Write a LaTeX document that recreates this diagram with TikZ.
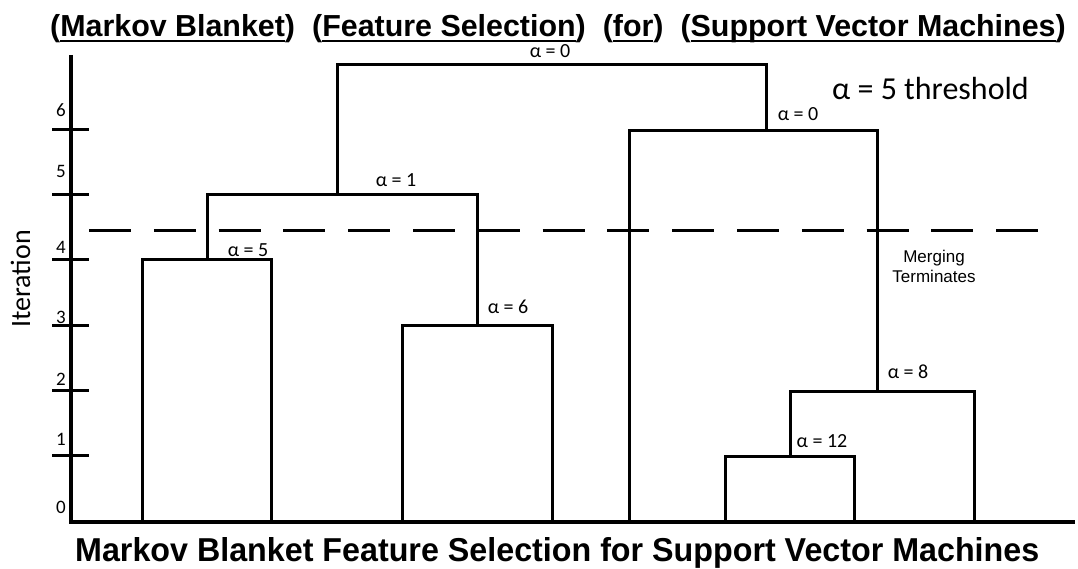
\documentclass[tikz,border=0pt]{standalone}
\usepackage{fontspec}
\setmainfont{Liberation Sans}
\newfontfamily\calfont{Carlito}
\newcommand\myul[1]{\setbox0\hbox{#1}\rlap{\rule[-5pt]{\wd0}{2.4pt}}\box0}
\begin{document}
\begin{tikzpicture}[x=1pt,y=-1pt,
  den/.style={line width=3pt, line join=miter, line cap=rect},
  axisline/.style={line width=3.2pt},
  tick/.style={line width=3pt},
  thresh/.style={line width=3pt, dash pattern=on 42pt off 22.8pt},
  alab/.style={font=\calfont\fontsize{20}{24}\selectfont, anchor=base, inner sep=0pt},
  nlab/.style={font=\calfont\fontsize{19}{23}\selectfont, anchor=base, inner sep=0pt}]
\useasboundingbox[fill=white] (0,0) rectangle (1078,569);

% axes
\coordinate (origin) at (71,522);
\coordinate (ytop) at (71,55);
\coordinate (xend) at (1075,522);
\draw[axisline] (ytop) -- (origin) -- (xend);

% ticks and numbers
\foreach \i/\y/\b in {1/455/445, 2/390/385, 3/325/323, 4/260/254, 5/195/178, 6/130/117}{
  \coordinate (tl\i) at (52,\y);
  \coordinate (tr\i) at (89,\y);
  \draw[tick] (tl\i) -- (tr\i);
  \node[nlab] (n\i) at (61,\b) {\i};
}
\node[nlab] (n0) at (61,513) {0};

\node[font=\calfont\fontsize{28}{32}\selectfont, rotate=90, anchor=base, inner sep=0pt] (ylab) at (30,279) {Iteration};

% leaves
\coordinate (A1) at (142,522);
\coordinate (A2) at (271,522);
\coordinate (B1) at (402,522);
\coordinate (B2) at (552,522);
\coordinate (E1) at (629,522);
\coordinate (C1) at (725,522);
\coordinate (C2) at (854,522);
\coordinate (D2) at (974,522);

% merge points (stem positions)
\coordinate (mA) at (207,260);
\coordinate (mB) at (477,325);
\coordinate (mAB) at (337,195);
\coordinate (mC) at (790,456);
\coordinate (mD) at (877,391);
\coordinate (mE) at (766,131);
\coordinate (mTop) at (550,65);

% clusters
\draw[den] (A1) -- (A1 |- mA) -- (A2 |- mA) -- (A2);
\draw[den] (B1) -- (B1 |- mB) -- (B2 |- mB) -- (B2);
\draw[den] (mA) -- (mA |- mAB) -- (mB |- mAB) -- (mB);
\draw[den] (C1) -- (C1 |- mC) -- (C2 |- mC) -- (C2);
\draw[den] (mC) -- (mC |- mD) -- (D2 |- mD) -- (D2);
\draw[den] (E1) -- (E1 |- mE) -- (mD |- mE) -- (mD);
\draw[den] (mAB) -- (mAB |- mTop) -- (mE |- mTop) -- (mE);

% threshold line
\coordinate (t1) at (89,231);
\coordinate (t2) at (1040,231);
\draw[thresh] (t1) -- (t2);

% alpha labels
\node[alab] (a0top) at (550,58) {α = 0};
\node[alab] (a0r) at (798,121) {α = 0};
\node[alab] (a1) at (396,187) {α = 1};
\node[alab] (a5) at (248,257) {α = 5};
\node[alab] (a6) at (508,313) {α = 6};
\node[alab] (a8) at (908,378) {α = 8};
\node[alab] (a12) at (822,447) {α = 12};

\node[font=\calfont\fontsize{32}{36}\selectfont, anchor=base west, inner sep=0pt] (thr) at (832,100) {α = 5 threshold};

\node[font=\fontsize{17}{20}\selectfont, anchor=base, inner sep=0pt] (mg1) at (934,262) {Merging};
\node[font=\fontsize{17}{20}\selectfont, anchor=base, inner sep=0pt] (mg2) at (934,283) {Terminates};

% titles
\node[font=\bfseries\fontsize{30.4}{36}\selectfont, anchor=base west, inner sep=0pt] (title) at (50,37)
 {(\myul{Markov Blanket})\hspace{17pt}(\myul{Feature Selection})\hspace{17pt}(\myul{for})\hspace{17pt}(\myul{Support Vector Machines})};
\node[anchor=base west, inner sep=0pt] (caption) at (75,561)
 {\resizebox{964pt}{24pt}{\bfseries Markov Blanket Feature Selection for Support Vector Machines}};
\end{tikzpicture}
\end{document}
